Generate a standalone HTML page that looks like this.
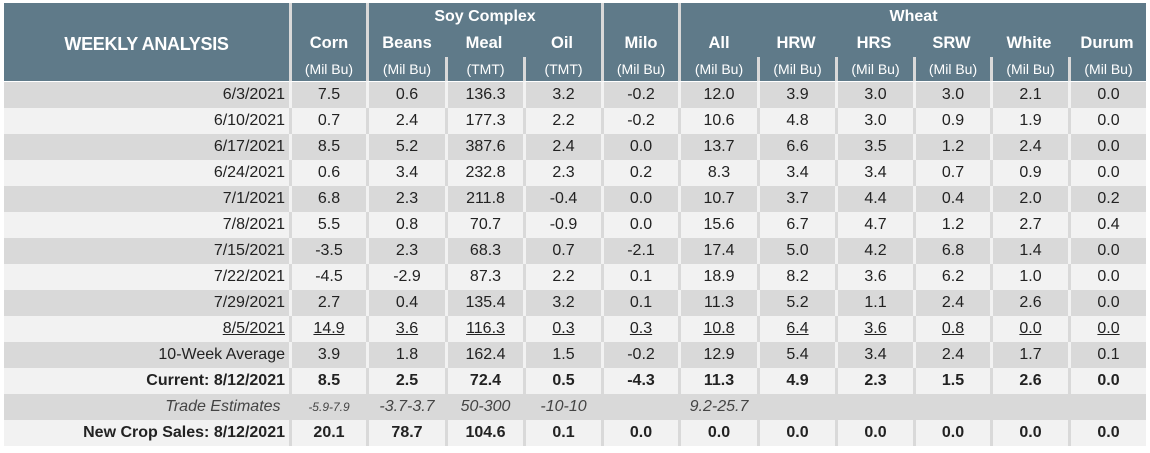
<!DOCTYPE html>
<html><head><meta charset="utf-8"><style>
html,body{margin:0;padding:0;background:#fff;width:1150px;height:453px;overflow:hidden}
table{position:absolute;left:4px;top:3px;border-collapse:separate;border-spacing:0;table-layout:fixed;width:1142px;font-family:"Liberation Sans",sans-serif;color:#222}
th,td{padding:0;white-space:nowrap;overflow:hidden}
thead th,thead td{background:#5f7a89;color:#fff;text-align:center;font-weight:bold}
.ra th,.ra td{height:27px;font-size:16px}
.rb th,.rb td{height:27px;font-size:16.5px;vertical-align:middle}
.rc th,.rc td{height:24px;font-size:14px;font-weight:normal}
.g{border-left:3px solid #d9d9d9}
.t{font-size:18px !important;letter-spacing:-0.3px}
tbody td{height:26px;font-size:16px;text-align:center;border-left:3px solid #d9d9d9;background:#f2f2f2}
tbody td:first-child{border-left:none;text-align:right;padding-right:4px}
tbody tr.d td{background:#d9d9d9;border-left-color:#f2f2f2}
tbody tr.d td:first-child{border-left:none}
tbody tr.first td{border-top:1px solid #fff}
tr.b td{font-weight:bold}
tr.u td{text-decoration:underline}
tr.tr td{border-left-color:#d9d9d9 !important;font-style:italic;color:#444}
</style></head><body>
<table>
<colgroup><col style="width:285px"><col style="width:77px"><col style="width:79px"><col style="width:78px"><col style="width:78px"><col style="width:77px"><col style="width:79px"><col style="width:78px"><col style="width:78px"><col style="width:77px"><col style="width:78px"><col style="width:78px"></colgroup>
<thead>
<tr class="ra"><th rowspan="2" class="t" style="vertical-align:bottom;padding-bottom:2px">WEEKLY ANALYSIS</th><td class="g"></td><th class="g" colspan="3">Soy Complex</th><td class="g"></td><th class="g" colspan="6">Wheat</th></tr>
<tr class="rb"><th class="g">Corn</th><th class="g">Beans</th><th>Meal</th><th>Oil</th><th class="g">Milo</th><th class="g">All</th><th>HRW</th><th>HRS</th><th>SRW</th><th>White</th><th>Durum</th></tr>
<tr class="rc"><td></td><td class="g">(Mil Bu)</td><td class="g">(Mil Bu)</td><td class="g">(TMT)</td><td class="g">(TMT)</td><td class="g">(Mil Bu)</td><td class="g">(Mil Bu)</td><td class="g">(Mil Bu)</td><td class="g">(Mil Bu)</td><td class="g">(Mil Bu)</td><td class="g">(Mil Bu)</td><td class="g">(Mil Bu)</td></tr>
</thead>
<tbody>
<tr class="d first"><td>6/3/2021</td><td>7.5</td><td>0.6</td><td>136.3</td><td>3.2</td><td>-0.2</td><td>12.0</td><td>3.9</td><td>3.0</td><td>3.0</td><td>2.1</td><td>0.0</td></tr>
<tr><td>6/10/2021</td><td>0.7</td><td>2.4</td><td>177.3</td><td>2.2</td><td>-0.2</td><td>10.6</td><td>4.8</td><td>3.0</td><td>0.9</td><td>1.9</td><td>0.0</td></tr>
<tr class="d"><td>6/17/2021</td><td>8.5</td><td>5.2</td><td>387.6</td><td>2.4</td><td>0.0</td><td>13.7</td><td>6.6</td><td>3.5</td><td>1.2</td><td>2.4</td><td>0.0</td></tr>
<tr><td>6/24/2021</td><td>0.6</td><td>3.4</td><td>232.8</td><td>2.3</td><td>0.2</td><td>8.3</td><td>3.4</td><td>3.4</td><td>0.7</td><td>0.9</td><td>0.0</td></tr>
<tr class="d"><td>7/1/2021</td><td>6.8</td><td>2.3</td><td>211.8</td><td>-0.4</td><td>0.0</td><td>10.7</td><td>3.7</td><td>4.4</td><td>0.4</td><td>2.0</td><td>0.2</td></tr>
<tr><td>7/8/2021</td><td>5.5</td><td>0.8</td><td>70.7</td><td>-0.9</td><td>0.0</td><td>15.6</td><td>6.7</td><td>4.7</td><td>1.2</td><td>2.7</td><td>0.4</td></tr>
<tr class="d"><td>7/15/2021</td><td>-3.5</td><td>2.3</td><td>68.3</td><td>0.7</td><td>-2.1</td><td>17.4</td><td>5.0</td><td>4.2</td><td>6.8</td><td>1.4</td><td>0.0</td></tr>
<tr><td>7/22/2021</td><td>-4.5</td><td>-2.9</td><td>87.3</td><td>2.2</td><td>0.1</td><td>18.9</td><td>8.2</td><td>3.6</td><td>6.2</td><td>1.0</td><td>0.0</td></tr>
<tr class="d"><td>7/29/2021</td><td>2.7</td><td>0.4</td><td>135.4</td><td>3.2</td><td>0.1</td><td>11.3</td><td>5.2</td><td>1.1</td><td>2.4</td><td>2.6</td><td>0.0</td></tr>
<tr class="u"><td>8/5/2021</td><td>14.9</td><td>3.6</td><td>116.3</td><td>0.3</td><td>0.3</td><td>10.8</td><td>6.4</td><td>3.6</td><td>0.8</td><td>0.0</td><td>0.0</td></tr>
<tr class="d"><td>10-Week Average</td><td>3.9</td><td>1.8</td><td>162.4</td><td>1.5</td><td>-0.2</td><td>12.9</td><td>5.4</td><td>3.4</td><td>2.4</td><td>1.7</td><td>0.1</td></tr>
<tr class="b"><td>Current: 8/12/2021</td><td>8.5</td><td>2.5</td><td>72.4</td><td>0.5</td><td>-4.3</td><td>11.3</td><td>4.9</td><td>2.3</td><td>1.5</td><td>2.6</td><td>0.0</td></tr>
<tr class="d tr"><td>Trade Estimates&nbsp;</td><td style="font-size:12px">-5.9-7.9</td><td>-3.7-3.7</td><td>50-300</td><td>-10-10</td><td></td><td>9.2-25.7</td><td></td><td></td><td></td><td></td><td></td></tr>
<tr class="b"><td>New Crop Sales: 8/12/2021</td><td>20.1</td><td>78.7</td><td>104.6</td><td>0.1</td><td>0.0</td><td>0.0</td><td>0.0</td><td>0.0</td><td>0.0</td><td>0.0</td><td>0.0</td></tr>
</tbody>
</table>
</body></html>
